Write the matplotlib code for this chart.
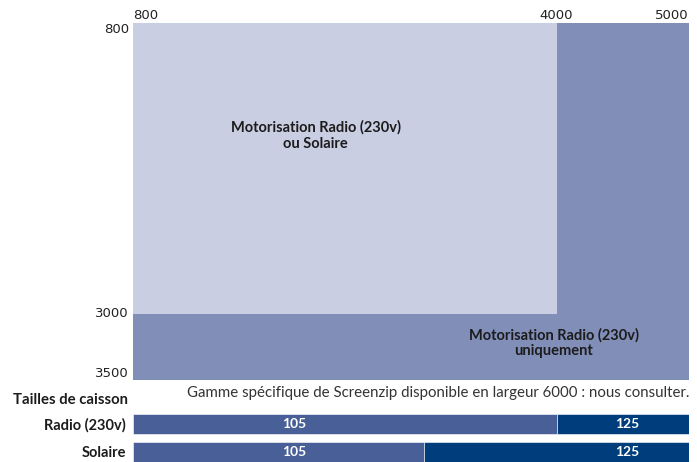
import matplotlib

matplotlib.use("Agg")
import matplotlib.pyplot as plt

# zones of the width x height chart (mm)
zone_x0 = [800, 4000, 800]
zone_x1 = [4000, 5000, 5000]
zone_y0 = [800, 800, 3000]
zone_y1 = [3000, 3000, 3500]
zone_colors = ["#c9cee3", "#808eb8", "#808eb8"]

zone_labels = ["Motorisation Radio (230v)\nou Solaire", "Motorisation Radio (230v)\nuniquement"]
zone_label_x = [2180, 3980]
zone_label_y = [1650, 3220]

x_ticks = [800, 4000, 5000]
y_ticks = [800, 3000, 3500]

# caisson sizes
rows = ["Radio (230v)", "Solaire"]
split = [4000, 3000]
size_small = "105"
size_large = "125"
label_small_x = 2020
label_large_x = 4530

note = "Gamme spécifique de Screenzip disponible en largeur 6000 : nous consulter."

W, H = 697, 462
fig = plt.figure(figsize=(W / 100, H / 100), dpi=100)

TXT = "Lato"
DARK = "#1c1c1c"

ax = fig.add_axes([133 / W, 1 - 380 / H, 556 / W, 357 / H])
for x0, x1, y0, y1, c in zip(zone_x0, zone_x1, zone_y0, zone_y1, zone_colors):
    ax.bar(x0, y1 - y0, width=x1 - x0, bottom=y0, align="edge", color=c, linewidth=0)
for lab, lx, ly in zip(zone_labels, zone_label_x, zone_label_y):
    ax.text(lx, ly, lab, ha="center", va="center", fontsize=10.5, fontweight="bold",
            family=TXT, color=DARK, linespacing=1.2)

ax.set_xlim(800, 5000)
ax.set_ylim(3500, 800)
ax.xaxis.tick_top()
ax.set_xticks(x_ticks)
ax.set_yticks(y_ticks)
ax.set_xticklabels([str(v) for v in x_ticks])
ax.set_yticklabels([str(v) for v in y_ticks])
ax.tick_params(axis="x", length=0, labelsize=9.5, colors="#222222", pad=1)
ax.tick_params(axis="y", length=0, labelsize=9.5, colors="#222222", pad=3)
for lab, ha in zip(ax.get_xticklabels(), ["left", "center", "right"]):
    lab.set_ha(ha)
for lab, va in zip(ax.get_yticklabels(), ["top", "center", "bottom"]):
    lab.set_va(va)
for s in ax.spines.values():
    s.set_visible(False)

# caisson bars
bx = fig.add_axes([133 / W, 0, 556 / W, 48 / H])
ypos = list(range(len(rows)))
bx.barh(ypos, [s - 800 for s in split], left=800, height=0.727, color="#485f97",
        edgecolor="white", linewidth=0.4)
bx.barh(ypos, [5000 - s for s in split], left=split, height=0.727, color="#003d7c",
        edgecolor="white", linewidth=0.4)
for y in ypos:
    bx.text(label_small_x, y, size_small, ha="center", va="center", color="white",
            fontsize=10, fontweight="bold", family=TXT)
    bx.text(label_large_x, y, size_large, ha="center", va="center", color="white",
            fontsize=10, fontweight="bold", family=TXT)
bx.set_xlim(800, 5000)
bx.set_ylim(1.38, -0.364)
bx.set_xticks([])
bx.set_yticks(ypos)
bx.set_yticklabels(rows, fontsize=10.5, fontweight="bold", family=TXT, color=DARK)
bx.tick_params(length=0, pad=5)
for s in bx.spines.values():
    s.set_visible(False)

fig.text(128 / W, 1 - 400 / H, "Tailles de caisson", ha="right", va="center",
         fontsize=10.7, fontweight="bold", family=TXT, color=DARK)
fig.text(689 / W, 1 - 393 / H, note, ha="right", va="center", fontsize=10.8,
         family=TXT, color="#333333")

fig.savefig("out.png", dpi=100)
